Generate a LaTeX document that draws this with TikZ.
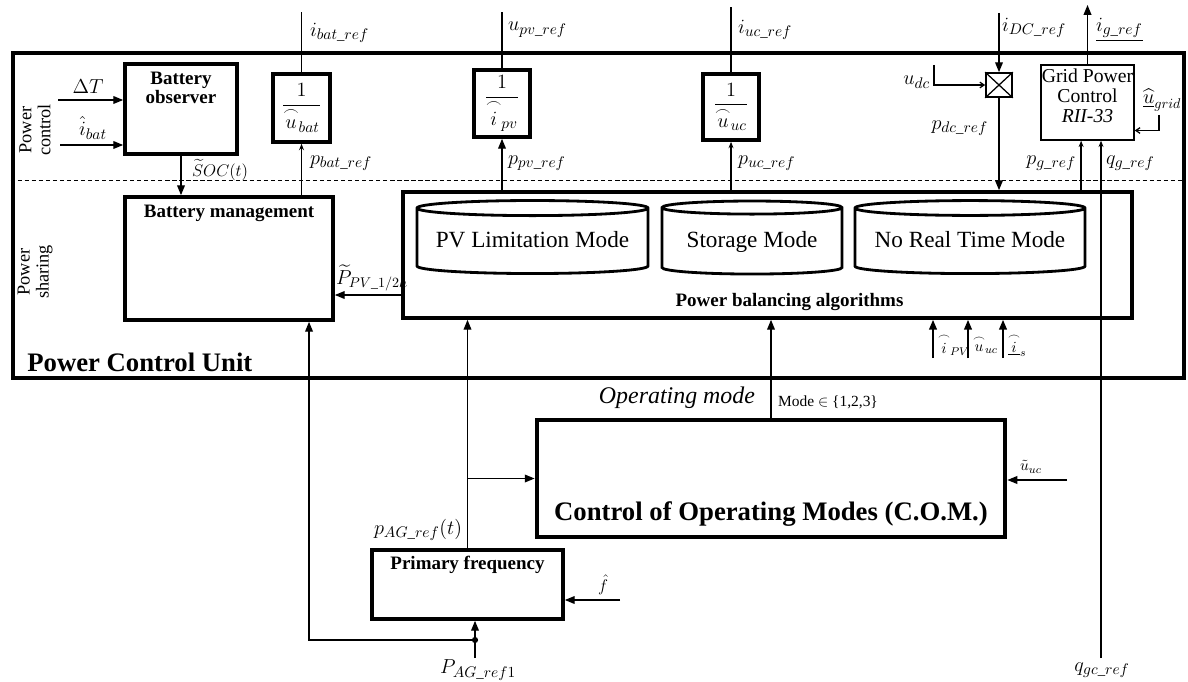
\documentclass[tikz,border=0pt]{standalone}
\usepackage{amsmath}
\usepackage{fontspec}
\setmainfont{Liberation Serif}
\usetikzlibrary{arrows.meta,positioning,shapes.geometric,fit,calc}

\begin{document}
\begin{tikzpicture}[x=0.025cm, y=-0.025cm, line width=0.9pt,
  >={Triangle[length=7pt,width=5.5pt]},
  small/.style={-{Stealth[length=4.5pt,width=3.5pt]}},
  open/.style={-{Straight Barb[length=3pt,width=4pt]}},
  frame/.style={draw, line width=3.4pt, inner sep=0pt},
  blk/.style={draw, line width=2.6pt, inner sep=0pt},
  thinblk/.style={draw, line width=1pt, inner sep=0pt, align=center, font=\fontsize{14}{14.5}\selectfont},
  drum/.style={draw, cylinder, shape border rotate=90, line width=2pt, inner sep=0pt, text height=11pt, text depth=3pt, font=\fontsize{16.5}{17}\selectfont},
  frac/.style={font=\fontsize{15}{15}\selectfont, inner sep=0pt},
  ttl/.style={font=\fontsize{13.5}{14}\selectfont\bfseries, align=center},
  sig/.style={font=\fontsize{15}{15}\selectfont, inner sep=1pt},
  side/.style={rotate=90, align=center, font=\fontsize{13}{13.5}\selectfont}]
\useasboundingbox (0,0) rectangle (1188,682);

% blocks
\node[frame, fit={(13,53) (1184,378)}] (pcu) {};
\node[blk, fit={(125,64) (237,154)}, label={[ttl, anchor=north, yshift=-3pt]north:Battery\\observer}] (bobs) {};
\node[blk, fit={(125,197) (333,320)}, label={[ttl, anchor=north, yshift=-3pt]north:Battery management}] (bman) {};
\node[blk, fit={(403,192) (1132,318)}, label={[ttl, anchor=south, xshift=0.55cm, yshift=3pt]south:Power balancing algorithms}] (pba) {};
\node[blk, fit={(273,74) (330,142)}, label={[frac]center:$\displaystyle\frac{1}{{\overset{\frown}{u}}_{bat}}$}] (fbat) {};
\node[blk, fit={(474,70) (530,137)}, label={[frac]center:$\displaystyle\frac{1}{{\overset{\frown}{i}}_{pv}}$}] (fpv) {};
\node[blk, fit={(703,74) (759,140)}, label={[frac]center:$\displaystyle\frac{1}{{\overset{\frown}{u}}_{uc}}$}] (fuc) {};
\node[draw, line width=1.2pt, inner sep=0pt, fit={(986,73) (1012,97)}] (mult) {};
\draw (mult.north west) -- (mult.south east) (mult.north east) -- (mult.south west);
\node[thinblk, fit={(1041,65) (1134,140)}] (gpc) {Grid Power\\Control\\\textit{RII-33}};
\node[drum, aspect=0.078, minimum width=5.775cm, minimum height=1.825cm] (pvl) at (532.5,241.5) {PV Limitation Mode};
\node[drum, aspect=0.1, minimum width=4.5cm, minimum height=1.825cm] (stor) at (752,241.5) {Storage Mode};
\node[drum, aspect=0.078, minimum width=5.75cm, minimum height=1.825cm] (nrt) at (970,241.5) {No Real Time Mode};
\node[frame, fit={(537,420) (1005,537)}, label={[font=\fontsize{19}{20}\selectfont\bfseries, anchor=south, yshift=0.2cm]south:Control of Operating Modes (C.O.M.)}] (com) {};
\node[blk, fit={(372,550) (563,619)}, label={[ttl, anchor=north, yshift=-2pt]north:Primary frequency}] (pfreq) {};

\draw[dashed, line width=0.7pt, dash pattern=on 3pt off 2pt] (pcu.west |- 0,180) -- (pcu.east |- 0,180);
\node[font=\fontsize{19}{20}\selectfont\bfseries, anchor=west] (pcutxt) at (22,362) {Power Control Unit};
\node[side] (pctl) at (35,130) {Power\\control};
\node[side] (pshr) at (35,272) {Power\\sharing};

% free ends
\coordinate (dT) at (58,100);
\coordinate (ibat) at (60,145);
\coordinate (ibatref) at (fbat.north |- 0,12);
\coordinate (upvref) at (fpv.north |- 0,12);
\coordinate (iucref) at (fuc.north |- 0,7);
\coordinate (idcref) at (mult.north |- 0,13);
\coordinate (udc) at (934,65);
\coordinate (igref) at (gpc.north |- 0,5);
\coordinate (ugrid) at (1159,115);
\coordinate (qgc) at (1101,658);
\coordinate (fhat) at (620,600);
\coordinate (pagin) at (475,658);
\coordinate (pagdot) at (475,640);
\coordinate (uuc) at (1067,480);
\foreach \x [count=\i] in {933,968,1003} \coordinate (in\i) at (\x,358);

% connectors
\draw[->] (dT) -- (dT -| bobs.west);
\draw[->] (ibat) -- (ibat -| bobs.west);
\draw[->] (bobs.south) -- (bobs.south |- bman.north);
\draw[small] (fbat.south |- bman.north) -- (fbat.south);
\draw (fbat.north) -- (ibatref);
\draw[->] (fpv.south |- pba.north) -- (fpv.south);
\draw (fpv.north) -- (upvref);
\draw[small] (fuc.south |- pba.north) -- (fuc.south);
\draw (fuc.north) -- (iucref);
\draw[->] (idcref) -- (mult.north);
\draw[open] (udc) |- (mult.west);
\draw[->] (mult.south) -- (mult.south |- pba.north);
\draw[->] (gpc.north) -- (igref);
\draw[open] (ugrid) |- ([yshift=-0.7cm]gpc.east);
\draw[small] ([xshift=-0.16cm]gpc.south |- pba.north) -- ([xshift=-0.16cm]gpc.south);
\draw[small] (qgc) -- (qgc |- gpc.south);
\draw[->] ([yshift=-1cm]pba.west) -- ([yshift=-1cm]pba.west -| bman.east);
\foreach \i in {1,2,3} \draw[->, line width=1.3pt] (in\i) -- (in\i |- pba.south);
\draw[->] (com.north) -- (com.north |- pba.south);
\draw[->] (pfreq.north) -- (pfreq.north |- pba.south);
\draw[->] (pfreq.north |- com.west) -- (com.west);
\draw[->] (fhat) -- (fhat -| pfreq.east);
\draw[->] (pagin) -- (pagin |- pfreq.south);
\fill (pagdot) circle (2.2pt);
\draw[->] (pagdot) -| ([xshift=2cm]bman.south);
\draw[->] (uuc) -- (uuc -| com.east);

% signal labels
\node[sig] (lDT) at (88,87) {$\Delta T$};
\node[sig] (libat) at (93,128) {$\hat{i}_{bat}$};
\node[sig, anchor=west, font=\fontsize{13}{13}\selectfont] (lsoc) at (190,170) {$\widetilde{S}OC(t)$};
\node[sig, anchor=west] (libr) at (308,33) {$i_{bat\_ref}$};
\node[sig, anchor=west] (lpbr) at (308,163) {$p_{bat\_ref}$};
\node[sig, anchor=west] (lupr) at (506,30) {$u_{pv\_ref}$};
\node[sig, anchor=west] (lppr) at (506,163) {$p_{pv\_ref}$};
\node[sig, anchor=west] (liur) at (736,30) {$i_{uc\_ref}$};
\node[sig, anchor=west] (lpur) at (736,163) {$p_{uc\_ref}$};
\node[sig, anchor=west] (lidr) at (1000,28) {$i_{DC\_ref}$};
\node[sig, anchor=east] (ludc) at (932,82) {$u_{dc}$};
\node[sig, anchor=east] (lpdr) at (990,128) {$p_{dc\_ref}$};
\node[sig, anchor=west] (ligr) at (1094,30) {$\underline{i_{g\_ref}}$};
\node[sig, anchor=west, font=\fontsize{14}{14}\selectfont] (lug) at (1141,100) {$\underline{\widehat{u}}_{grid}$};
\node[sig, anchor=east] (lpgr) at (1078,163) {$p_{g\_ref}$};
\node[sig, anchor=west] (lqgr) at (1104,163) {$q_{g\_ref}$};
\node[sig, anchor=west, font=\fontsize{14}{14}\selectfont] (lppv) at (334,278) {$\widetilde{P}_{PV\_1/2h}$};
\node[sig, anchor=west, font=\fontsize{11}{11}\selectfont] (lipv) at (936,345) {${\overset{\frown}{i}}_{PV}$};
\node[sig, anchor=west, font=\fontsize{11}{11}\selectfont] (luuc) at (971,345) {${\overset{\frown}{u}}_{uc}$};
\node[sig, anchor=west, font=\fontsize{11}{11}\selectfont] (lis) at (1006,345) {$\underline{\overset{\frown}{i}}_{s}$};
\node[sig, anchor=east, font=\fontsize{17}{17}\selectfont\itshape] (lopm) at (757,398) {Operating mode};
\node[sig, anchor=west, font=\fontsize{11}{11}\selectfont] (lmode) at (776,402) {Mode $\in$ \{1,2,3\}};
\node[sig, anchor=west, font=\fontsize{11}{11}\selectfont] (lutl) at (1018,467) {$\tilde{u}_{uc}$};
\node[sig, anchor=west] (lpag) at (372,530) {$p_{AG\_ref}(t)$};
\node[sig, font=\fontsize{12}{12}\selectfont] (lf) at (603,585) {$\hat{f}$};
\node[sig] (lpag1) at (478,670) {$P_{AG\_ref1}$};
\node[sig] (lqgc) at (1102,670) {$q_{gc\_ref}$};
\end{tikzpicture}
\end{document}
